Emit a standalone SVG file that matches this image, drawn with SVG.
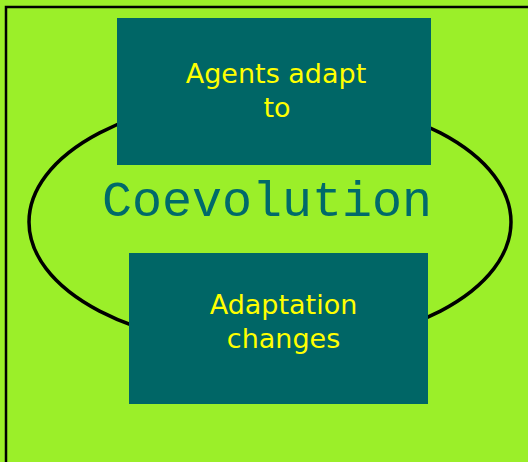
<svg xmlns="http://www.w3.org/2000/svg" width="528" height="462" viewBox="0 0 528 462">
  <style>
    .box { fill: #006666; }
    .lbl { font-family: "DejaVu Sans", Verdana, sans-serif; font-size: 27px; fill: #ffff00; text-anchor: middle; }
    .loop { fill: none; stroke: #000000; stroke-width: 3.5; }
    .title { font-family: "Courier New", "Nimbus Mono PS", "FreeMono", "Liberation Mono", monospace; font-size: 50px; fill: #006a6a; text-anchor: middle; }
  </style>
  <!-- slide background and frame -->
  <rect x="0" y="0" width="528" height="462" fill="#9bef29"/>
  <rect x="6" y="7" width="600" height="600" fill="none" stroke="#000000" stroke-width="2.5"/>

  <!-- cycle loop -->
  <g id="connectors">
    <ellipse class="loop" cx="270" cy="222" rx="241" ry="126"/>
  </g>

  <g id="agents-adapt">
    <rect class="box" x="117" y="18" width="314" height="147"/>
    <text class="lbl" x="276" y="83">Agents adapt</text>
    <text class="lbl" x="277" y="117">to</text>
  </g>

  <g id="adaptation-changes">
    <rect class="box" x="129" y="253" width="299" height="151"/>
    <text class="lbl" x="283.5" y="314">Adaptation</text>
    <text class="lbl" x="283.5" y="348">changes</text>
  </g>

  <g id="coevolution">
    <text class="title" x="267" y="216">Coevolution</text>
  </g>
</svg>
